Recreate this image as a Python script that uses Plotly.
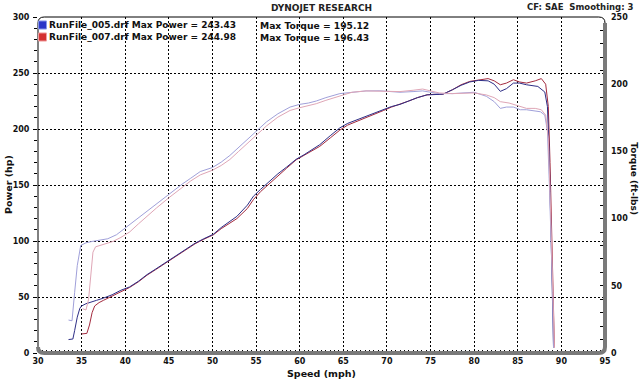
import plotly.graph_objects as go

# ---------------- data ----------------
speed_power_blue = [33.5, 34.0, 34.2, 34.5, 34.8, 35.0, 35.5, 36.0, 36.7, 37.5, 38.5, 39.5, 40.5, 41.5,
                    42.5, 43.5, 44.5, 45.1, 46.0, 47.0, 48.0, 49.0, 50.1, 51.0, 52.0, 52.8, 54.0, 54.7,
                    55.5, 56.6, 57.5, 58.5, 59.6, 60.5, 61.5, 62.3, 63.5, 64.6, 65.5, 66.5, 67.6, 68.5,
                    69.6, 70.5, 71.5, 72.5, 73.5, 74.6, 75.5, 76.4, 77.5, 78.5, 79.5, 80.5, 81.6, 82.3,
                    83.0, 83.7, 84.5, 85.2, 86.0, 87.3, 88.1, 88.4, 88.6, 88.8, 89.0, 89.1]
power_blue = [12, 12.5, 20, 32, 40, 42, 44, 45, 47, 49, 52, 56, 59, 64,
              70, 75, 80, 83, 88, 93, 98, 102, 106, 112, 118, 122, 132, 140,
              146, 154, 160, 166, 173, 177, 182, 186, 194, 201, 205, 208, 211, 214,
              217, 220, 222, 225, 228, 230.5, 231, 231, 235, 239, 242, 243.4, 243, 240,
              233.6, 236, 241, 241, 239.5, 238, 233, 220, 180, 120, 60, 5]

speed_power_red = [35.0, 35.6, 35.9, 36.2, 36.5, 37.0, 37.5, 38.5, 39.5, 40.5, 41.5, 42.5, 43.5, 44.5,
                   45.1, 46.0, 47.0, 48.0, 49.0, 50.1, 51.0, 52.0, 52.8, 54.0, 54.7, 55.5, 56.6, 57.5,
                   58.5, 59.6, 60.5, 61.5, 62.3, 63.5, 64.6, 65.5, 66.5, 67.6, 68.5, 69.6, 70.5, 71.5,
                   72.5, 73.5, 74.6, 75.5, 76.4, 77.5, 78.5, 79.5, 80.5, 81.6, 82.3, 83.0, 83.7, 84.5,
                   85.2, 86.0, 87.0, 87.7, 88.2, 88.5, 88.7, 88.9, 89.1, 89.2]
power_red = [17, 17.5, 25, 36, 42, 45, 47, 51, 55, 58.5, 63.5, 69.5, 74.5, 79.5,
             82.5, 87.5, 92.5, 97.5, 101.5, 105.5, 111, 116, 120, 129, 137, 144, 152, 158.5,
             165, 172.5, 176.5, 181, 184.5, 192, 199, 203.5, 206.5, 210, 213, 216.5, 219.5, 222,
             225, 228, 230.5, 231, 231, 235, 239.5, 242.5, 244, 245, 243, 239.5, 241, 244,
             242, 241, 243, 245, 240, 220, 170, 110, 50, 5]

speed_torque_blue = [33.5, 33.9, 34.2, 34.5, 34.9, 35.5, 36.2, 37.1, 38.0, 39.0, 40.0, 41.1, 42.3, 43.6,
                     45.0, 46.6, 47.5, 48.6, 50.0, 51.0, 52.0, 53.0, 54.0, 54.9, 56.2, 57.5, 58.9, 60.0,
                     61.0, 61.9, 63.0, 64.6, 66.0, 67.6, 69.2, 70.5, 71.5, 73.0, 74.1, 75.0, 76.0, 77.5,
                     79.0, 80.0, 81.4, 82.3, 83.0, 83.7, 84.5, 85.3, 86.0, 87.0, 87.6, 88.1, 88.4, 88.6,
                     88.8, 89.0, 89.1]
torque_blue = [24.5, 24, 45, 65, 80, 82, 83, 84, 85, 88, 93, 99, 105, 111,
               118, 126, 130, 135, 138, 142, 147, 153, 159, 164, 172, 178, 183, 185,
               186, 187.5, 190, 193, 194, 195, 195.1, 194.5, 194, 194.5, 195, 194, 193, 193,
               193.5, 194, 191, 187, 182, 183, 183, 181, 181, 180, 179.5, 177, 165, 130,
               90, 45, 4]

speed_torque_red = [35.1, 35.5, 35.8, 36.0, 36.3, 36.6, 37.5, 38.6, 39.5, 40.5, 41.5, 42.5, 43.6, 45.0,
                    46.6, 47.5, 48.6, 50.0, 51.0, 52.0, 53.0, 54.0, 54.9, 56.2, 57.5, 58.9, 60.0, 61.0,
                    61.9, 63.0, 64.6, 66.0, 67.6, 69.2, 70.5, 71.5, 73.0, 74.1, 75.0, 76.0, 77.5, 79.0,
                    80.0, 81.4, 82.3, 83.0, 84.0, 85.0, 86.0, 87.0, 87.7, 88.2, 88.5, 88.7, 88.9, 89.1,
                    89.2]
torque_red = [33, 32, 40, 55, 75, 79, 81, 83, 86, 90, 96, 102, 108, 115.5,
              123.5, 128, 132.5, 136, 139.5, 144, 150, 156, 161, 169, 175.5, 180.5, 182.5, 184,
              185.5, 188, 191.5, 194, 195, 195, 195, 194.5, 195.5, 196.4, 195, 193.5, 193, 193,
              193.5, 192, 190, 187, 186, 184, 182, 182, 181, 177, 160, 120, 80, 35,
              4]

run_names = ["RunFile_005.drf", "RunFile_007.drf"]
max_power = ["243.43", "244.98"]
max_torque = ["195.12", "196.43"]

# ---------------- styling ----------------
C_PB = "#2e2e86"
C_PR = "#a32a3e"
C_TB = "#a0a0da"
C_TR = "#dfa6b6"
FONT = "DejaVu Sans"
TXT = "#111111"

fig = go.Figure()
fig.add_trace(go.Scatter(x=speed_torque_blue, y=torque_blue, mode="lines", yaxis="y2",
                         line=dict(color=C_TB, width=1), showlegend=False, hoverinfo="skip"))
fig.add_trace(go.Scatter(x=speed_torque_red, y=torque_red, mode="lines", yaxis="y2",
                         line=dict(color=C_TR, width=1), showlegend=False, hoverinfo="skip"))
fig.add_trace(go.Scatter(x=speed_power_red, y=power_red, mode="lines",
                         line=dict(color=C_PR, width=1), showlegend=False, hoverinfo="skip"))
fig.add_trace(go.Scatter(x=speed_power_blue, y=power_blue, mode="lines",
                         line=dict(color=C_PB, width=1), showlegend=False, hoverinfo="skip"))

tickfont = dict(family=FONT, size=8, color=TXT, weight="bold")
grid = dict(showgrid=True, gridcolor="#000000", gridwidth=1, griddash="2px,2px")

fig.update_layout(
    width=640, height=379,
    margin=dict(l=38, r=35, t=17, b=26),
    paper_bgcolor="white", plot_bgcolor="white",
    xaxis=dict(range=[30, 95], tick0=30, dtick=5, **grid, zeroline=False, showline=False,
               ticks="inside", ticklen=4, tickcolor="black", tickwidth=1, automargin=False,
               minor=dict(dtick=0.5, ticks="inside", ticklen=3, tickcolor="black", showgrid=False),
               tickfont=tickfont, ticklabelstandoff=2),
    yaxis=dict(range=[0, 300], tick0=0, dtick=50, **grid, zeroline=False, showline=False,
               ticks="outside", ticklen=4, tickcolor="black", automargin=False,
               minor=dict(dtick=10, ticks="outside", ticklen=3, tickcolor="black", showgrid=False),
               tickfont=tickfont, ticklabelstandoff=2),
    yaxis3=dict(range=[0, 300], overlaying="y", side="left", showgrid=False, zeroline=False,
                showticklabels=False, ticks="inside", ticklen=3, dtick=50, tickcolor="black",
                automargin=False,
                minor=dict(dtick=10, ticks="inside", ticklen=3, tickcolor="black", showgrid=False)),
    yaxis2=dict(range=[0, 250], overlaying="y", side="right", showgrid=False, zeroline=False,
                showline=False, dtick=50, ticks="inside", ticklen=5, tickcolor="black",
                automargin=False,
                minor=dict(dtick=10, ticks="inside", ticklen=5, tickcolor="black", showgrid=False),
                tickfont=tickfont, ticklabelstandoff=5),
)

# frame (rounded box: thin black top/left, thick grey right/bottom)
rx, ry = 0.011, 0.018
fig.add_shape(type="path", xref="paper", yref="paper", layer="above",
              path=f"M 0 {ry} L 0 {1-ry} Q 0 1 {rx} 1 L {1-rx} 1 Q 1 1 1 {1-ry}",
              line=dict(color="black", width=1))
fig.add_shape(type="path", xref="paper", yref="paper", layer="above",
              path=f"M 1 {1-ry} L 1 {ry} Q 1 0 {1-rx} 0 L {rx} 0 Q 0 0 0 {ry}",
              line=dict(color="#7a7a7a", width=4))

# header texts
fig.add_annotation(text="DYNOJET RESEARCH", xref="paper", yref="paper", x=0.5, y=1.0,
                   yanchor="middle", yshift=9, showarrow=False,
                   font=dict(family=FONT, size=9, color="#222", weight="bold"))
fig.add_annotation(text="CF: SAE  Smoothing: 3", xref="paper", yref="paper", x=1.055, y=1.0,
                   xanchor="right", yanchor="middle", yshift=10, showarrow=False,
                   font=dict(family=FONT, size=8.5, color="#222", weight="bold"))

# axis titles
fig.add_annotation(text="Speed (mph)", xref="paper", yref="paper", x=0.5, y=0, yshift=-20,
                   yanchor="middle", showarrow=False,
                   font=dict(family=FONT, size=9.5, color=TXT, weight="bold"))
fig.add_annotation(text="Power (hp)", xref="paper", yref="paper", x=0, xshift=-30, y=0.5,
                   xanchor="center", yanchor="middle", textangle=-90, showarrow=False,
                   font=dict(family=FONT, size=9.5, color=TXT, weight="bold"))
fig.add_annotation(text="Torque (ft-lbs)", xref="paper", yref="paper", x=1, xshift=29, y=0.52,
                   xanchor="center", yanchor="middle", textangle=90, showarrow=False,
                   font=dict(family=FONT, size=9, color=TXT, weight="bold"))

# legend boxes and texts
box_colors = [("#2a36c8", "#8a9ae8"), ("#d43030", "#f0a0a0")]
for i, (name, mp, mt) in enumerate(zip(run_names, max_power, max_torque)):
    yc = 1 - (8 + 12 * i) / 336
    fig.add_shape(type="rect", xref="paper", yref="paper", layer="above",
                  x0=0.001, x1=0.015, y0=yc - 0.012, y1=yc + 0.012,
                  fillcolor=box_colors[i][0], line=dict(color=box_colors[i][1], width=1))
    fig.add_annotation(text=f"{name} Max Power = {mp}", xref="paper", yref="paper",
                       x=0.016, y=yc, xanchor="left", yanchor="middle", showarrow=False,
                       font=dict(family=FONT, size=9, color=TXT, weight="bold"))
    fig.add_annotation(text=f"Max Torque = {mt}", xref="paper", yref="paper",
                       x=(258 - 38) / 567, y=yc, xanchor="left", yanchor="middle", showarrow=False,
                       font=dict(family=FONT, size=9.2, color=TXT, weight="bold"))

fig.write_html("out.html", config={"displayModeBar": False},
               post_script="document.body.style.margin='0';")
